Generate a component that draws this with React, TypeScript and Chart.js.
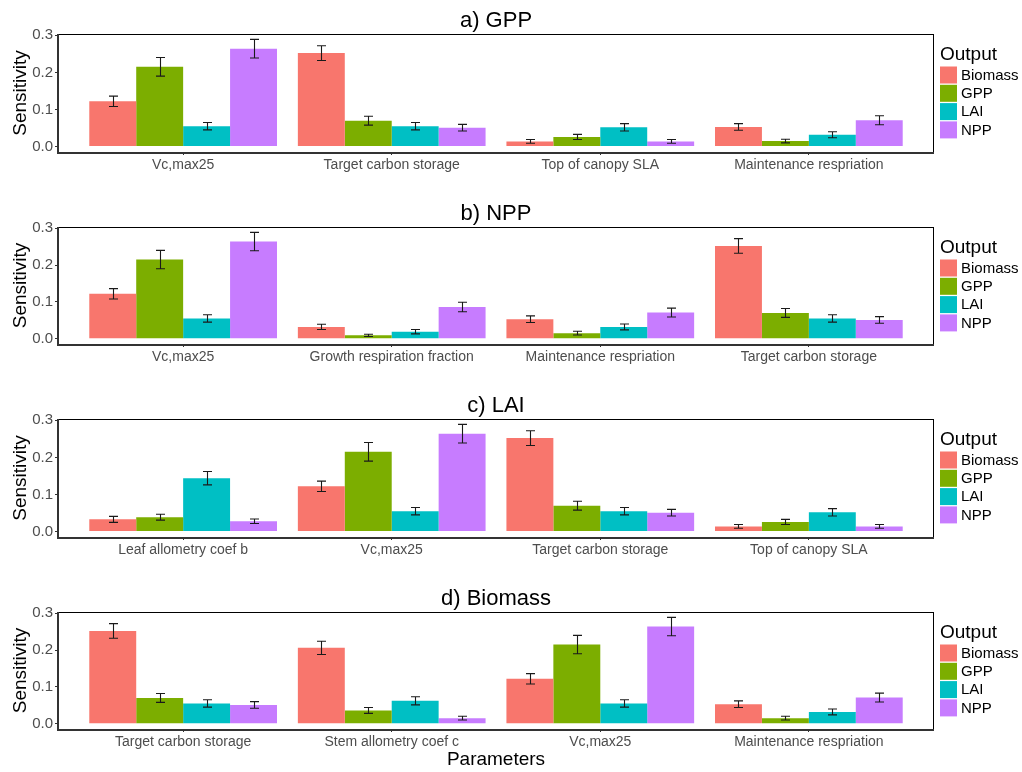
import React, { useEffect, useRef } from "react";
import { Chart, registerables } from "chart.js";

Chart.register(...registerables);

// Outputs (legend series) and their colours
const outputs = ["Biomass", "GPP", "LAI", "NPP"];
const outputColors = ["#F8766D", "#7CAE00", "#00BFC4", "#C77CFF"];

// Sensitivity of [Biomass, GPP, LAI, NPP] to each parameter, and error bar half-widths
const vcmax25 = [0.122, 0.215, 0.055, 0.264];
const vcmax25Err = [0.014, 0.025, 0.01, 0.025];
const targetCarbon = [0.252, 0.07, 0.055, 0.051];
const targetCarbonErr = [0.02, 0.012, 0.01, 0.009];
const topCanopySLA = [0.014, 0.026, 0.052, 0.014];
const topCanopySLAErr = [0.005, 0.007, 0.01, 0.005];
const maintResp = [0.053, 0.015, 0.032, 0.071];
const maintRespErr = [0.009, 0.005, 0.008, 0.012];
const growthResp = [0.032, 0.009, 0.019, 0.086];
const growthRespErr = [0.007, 0.003, 0.006, 0.013];
const leafAllomB = [0.033, 0.039, 0.144, 0.028];
const leafAllomBErr = [0.008, 0.008, 0.018, 0.006];
const stemAllomC = [0.206, 0.036, 0.062, 0.015];
const stemAllomCErr = [0.018, 0.008, 0.011, 0.005];

// Panel titles and the parameters shown in each panel
const panelTitles = ["a) GPP", "b) NPP", "c) LAI", "d) Biomass"];
const panelACategories = ["Vc,max25", "Target carbon storage", "Top of canopy SLA", "Maintenance respriation"];
const panelBCategories = ["Vc,max25", "Growth respiration fraction", "Maintenance respriation", "Target carbon storage"];
const panelCCategories = ["Leaf allometry coef b", "Vc,max25", "Target carbon storage", "Top of canopy SLA"];
const panelDCategories = ["Target carbon storage", "Stem allometry coef c", "Vc,max25", "Maintenance respriation"];

const yTicks = [0, 0.1, 0.2, 0.3];
const yAxisTitle = "Sensitivity";
const xAxisTitle = "Parameters";
const legendTitle = "Output";

const paramTable: Record<string, { v: number[]; e: number[] }> = {
  "Vc,max25": { v: vcmax25, e: vcmax25Err },
  "Target carbon storage": { v: targetCarbon, e: targetCarbonErr },
  "Top of canopy SLA": { v: topCanopySLA, e: topCanopySLAErr },
  "Maintenance respriation": { v: maintResp, e: maintRespErr },
  "Growth respiration fraction": { v: growthResp, e: growthRespErr },
  "Leaf allometry coef b": { v: leafAllomB, e: leafAllomBErr },
  "Stem allometry coef c": { v: stemAllomC, e: stemAllomCErr },
};

const panelCategories = [panelACategories, panelBCategories, panelCCategories, panelDCategories];

const FONT = "'Liberation Sans', Arial, sans-serif";
const W = 1022;
const canvasTops = [0, 193, 385, 578];
const canvasHeights = [193, 192, 193, 194];
const plotHeights = [118, 117, 118, 117];
const PAD_TOP = 34;
const Y_AXIS_W = 58;
const PAD_RIGHT = 88;

const errorBarPlugin = {
  id: "errorBars",
  afterDatasetsDraw(chart: any) {
    const ctx = chart.ctx;
    const ys = chart.scales.y;
    ctx.save();
    ctx.strokeStyle = "#1a1a1a";
    ctx.lineWidth = 1.1;
    chart.data.datasets.forEach((ds: any, di: number) => {
      const meta = chart.getDatasetMeta(di);
      meta.data.forEach((el: any, i: number) => {
        const v = ds.data[i].y;
        const e = ds.errs[i];
        const t = ys.getPixelForValue(v + e);
        const b = ys.getPixelForValue(v - e);
        const x = Math.round(el.x) + 0.5;
        ctx.beginPath();
        ctx.moveTo(x, t);
        ctx.lineTo(x, b);
        ctx.moveTo(x - 4.5, t);
        ctx.lineTo(x + 4.5, t);
        ctx.moveTo(x - 4.5, b);
        ctx.lineTo(x + 4.5, b);
        ctx.stroke();
      });
    });
    ctx.restore();
  },
};

const decorPlugin = {
  id: "decor",
  afterDraw(chart: any) {
    const ctx = chart.ctx;
    const a = chart.chartArea;
    const title = chart.options.plugins.decor.title;
    ctx.save();
    // panel border
    ctx.strokeStyle = "#000";
    ctx.lineWidth = 1;
    ctx.strokeRect(a.left + 0.5, a.top + 0.5, a.right - a.left - 1, a.bottom - a.top);
    ctx.strokeStyle = "#333";
    ctx.lineWidth = 2;
    ctx.beginPath();
    ctx.moveTo(a.left, a.top);
    ctx.lineTo(a.left, a.bottom + 1);
    ctx.lineTo(a.right, a.bottom + 1);
    ctx.stroke();
    // title
    ctx.fillStyle = "#000";
    ctx.font = `22px ${FONT}`;
    ctx.textAlign = "center";
    ctx.textBaseline = "middle";
    ctx.fillText(title, (a.left + a.right) / 2, a.top - 13.5);
    // legend
    const lx = a.right + 6;
    ctx.textAlign = "left";
    ctx.font = `19px ${FONT}`;
    ctx.fillText(legendTitle, lx, a.top + 21);
    ctx.font = `15px ${FONT}`;
    chart.data.datasets.forEach((ds: any, k: number) => {
      const ky = a.top + 32.5 + k * 18.3;
      ctx.fillStyle = ds.backgroundColor;
      ctx.fillRect(lx, ky, 17, 17);
      ctx.fillStyle = "#000";
      ctx.fillText(ds.label, lx + 21, ky + 9);
    });
    ctx.restore();
  },
};

function Panel({ idx }: { idx: number }) {
  const ref = useRef<HTMLCanvasElement>(null);
  useEffect(() => {
    const cats = panelCategories[idx];
    const H = canvasHeights[idx];
    const xH = H - PAD_TOP - plotHeights[idx];
    const isLast = idx === panelCategories.length - 1;
    const datasets = outputs.map((o, k) => ({
      label: o,
      data: cats.map((c, i) => ({ x: i + 1, y: paramTable[c].v[k] })),
      errs: cats.map((c) => paramTable[c].e[k]),
      backgroundColor: outputColors[k],
      borderWidth: 0,
      categoryPercentage: 0.9,
      barPercentage: 1.0,
    }));
    const chart = new Chart(ref.current as HTMLCanvasElement, {
      type: "bar",
      data: { datasets } as any,
      options: {
        responsive: false,
        animation: false,
        layout: { padding: { top: PAD_TOP, right: PAD_RIGHT, left: 0, bottom: 0 } },
        plugins: {
          legend: { display: false },
          tooltip: { enabled: false },
          decor: { title: panelTitles[idx] },
        } as any,
        scales: {
          x: {
            type: "linear",
            min: 0.4,
            max: 4.6,
            offset: false,
            afterBuildTicks: (s: any) => {
              s.ticks = cats.map((_, i) => ({ value: i + 1 }));
            },
            afterFit: (s: any) => {
              s.height = xH;
            },
            ticks: {
              autoSkip: false,
              maxRotation: 0,
              padding: 2,
              color: "#4d4d4d",
              font: { family: FONT, size: 14 },
              callback: (v: any) => cats[Math.round(Number(v)) - 1] ?? "",
            },
            grid: { drawOnChartArea: false, drawTicks: true, tickLength: 3, color: "#333", offset: false },
            border: { display: false },
            title: {
              display: isLast,
              text: xAxisTitle,
              color: "#000",
              font: { family: FONT, size: 19 },
              padding: { top: 0, bottom: 1 },
            },
          },
          y: {
            type: "linear",
            min: -0.0145,
            max: 0.3035,
            afterBuildTicks: (s: any) => {
              s.ticks = yTicks.map((v) => ({ value: v }));
            },
            afterFit: (s: any) => {
              s.width = Y_AXIS_W;
            },
            ticks: {
              padding: 2,
              color: "#4d4d4d",
              font: { family: FONT, size: 15 },
              callback: (v: any) => Number(v).toFixed(1),
            },
            grid: { drawOnChartArea: false, drawTicks: true, tickLength: 3, color: "#333" },
            border: { display: false },
            title: {
              display: true,
              text: yAxisTitle,
              color: "#000",
              font: { family: FONT, size: 19 },
              padding: { top: 9, bottom: 0 },
            },
          },
        },
      } as any,
      plugins: [errorBarPlugin, decorPlugin],
    });
    return () => chart.destroy();
  }, [idx]);
  return (
    <canvas
      ref={ref}
      width={W}
      height={canvasHeights[idx]}
      style={{ position: "absolute", left: 0, top: canvasTops[idx], width: W, height: canvasHeights[idx] }}
    />
  );
}

export default function App() {
  return (
    <div style={{ position: "absolute", left: 0, top: 0, width: W, height: 772, background: "#fff" }}>
      {panelCategories.map((_, i) => (
        <Panel key={i} idx={i} />
      ))}
    </div>
  );
}
